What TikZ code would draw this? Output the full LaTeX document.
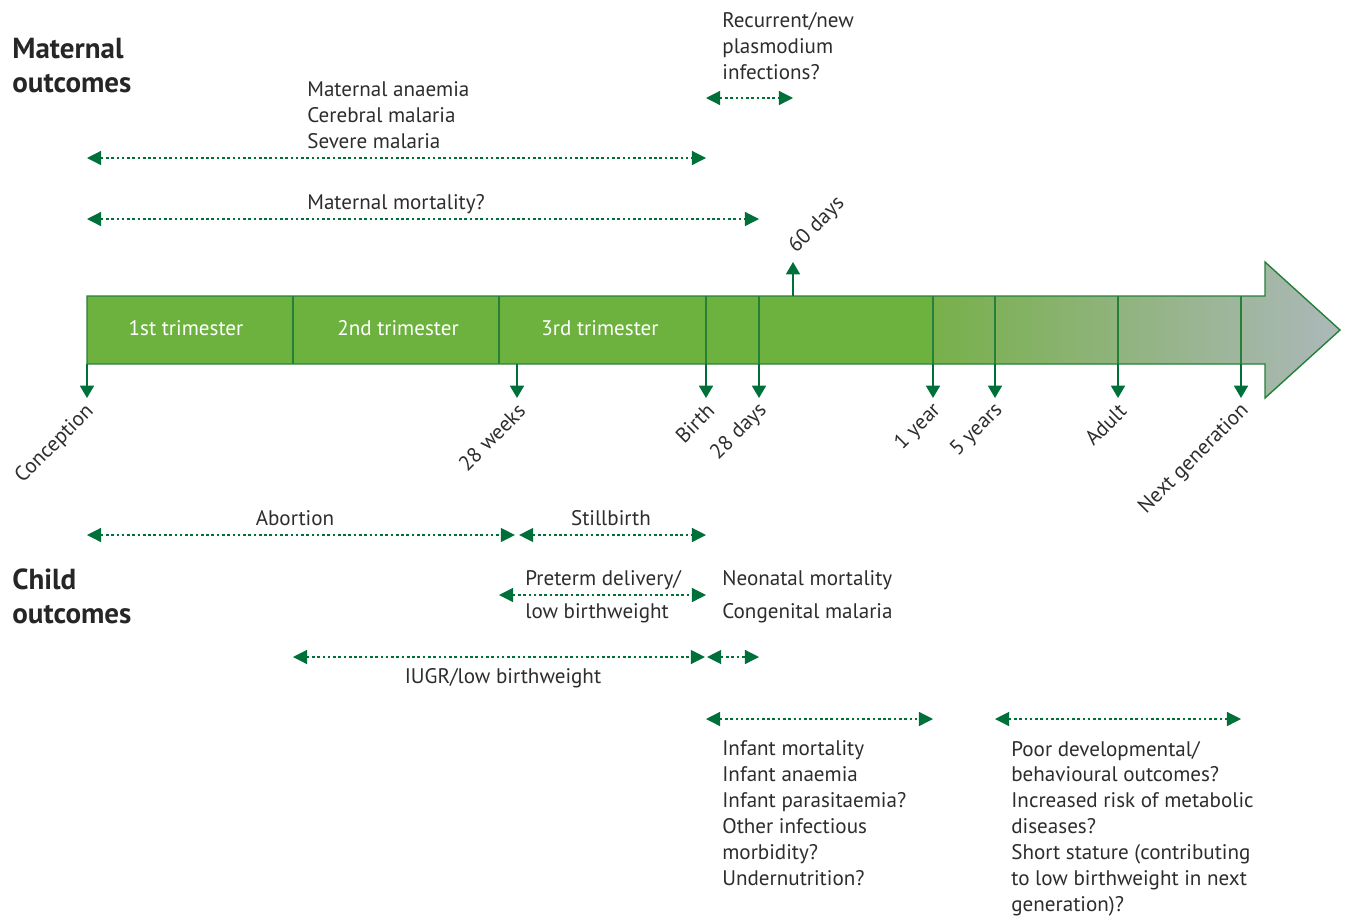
\documentclass[tikz,border=0pt]{standalone}
\usepackage{fontspec}
\setmainfont{PT Sans}
\usetikzlibrary{arrows.meta, calc}
\definecolor{bargreen}{RGB}{109, 178, 62}
\definecolor{fadegreen}{RGB}{120, 176, 74}
\definecolor{fadegrey}{RGB}{172, 184, 186}
\definecolor{barline}{RGB}{38, 128, 58}
\definecolor{tickgreen}{RGB}{0, 112, 58}
\definecolor{textgrey}{RGB}{45, 45, 45}

\begin{document}
\begin{tikzpicture}[
	x=0.02cm, y=-0.02cm,
	font=\fontsize{12}{14.7}\selectfont,
	% Styles for the connectors
	span/.style={{Triangle[length=8pt, width=8pt]}-{Triangle[length=8pt, width=8pt]}, draw=tickgreen, line width=0.7pt, dash pattern=on 1.5pt off 1.5pt},
	tick/.style={-{Triangle[length=7pt, width=8pt]}, draw=tickgreen, line width=0.8pt},
	divider/.style={draw=barline, line width=0.8pt},
	% Styles for text (base = baseline of the LAST line)
	txt/.style={text=textgrey, align=left, inner sep=0pt, anchor=base west},
	header/.style={txt, font=\fontsize{16.5}{19}\selectfont\bfseries, text=black!85},
	trimtext/.style={text=white, inner sep=0pt, anchor=base},
	ticklabel/.style={text=textgrey, rotate=45, anchor=east, inner sep=1pt}
	]
	\useasboundingbox (0, 0) rectangle (1349, 917);
	
	% ==========================================
	% TIMELINE POINTS AND ROWS
	% ==========================================
	\coordinate (conc) at (87, 364);
	\coordinate (tri12) at (293, 364);
	\coordinate (tri23) at (499, 364);
	\coordinate (wk28) at (517, 364);
	\coordinate (birth) at (706, 364);
	\coordinate (d28) at (759, 364);
	\coordinate (d60) at (793, 296);
	\coordinate (yr1) at (933, 364);
	\coordinate (yr5) at (995, 364);
	\coordinate (adult) at (1118, 364);
	\coordinate (nextgen) at (1241, 364);
	
	\coordinate (bartop) at (0, 296);
	\coordinate (tickrow) at (0, 398);
	\coordinate (uprow) at (0, 262);
	
	\coordinate (rowRecur) at (0, 98);
	\coordinate (rowAnaemia) at (0, 158);
	\coordinate (rowMort) at (0, 219);
	\coordinate (rowAbort) at (0, 535);
	\coordinate (rowPreterm) at (0, 595);
	\coordinate (rowIugr) at (0, 657);
	\coordinate (rowInfant) at (0, 719);
	
	% ==========================================
	% TIMELINE ARROW
	% ==========================================
	\fill[bargreen] (87, 296) rectangle (933, 364);
	\shade[left color=fadegreen, right color=fadegrey] (933, 296) -- (1265, 296) -- (1265, 262) -- (1340, 330) -- (1265, 398) -- (1265, 364) -- (933, 364) -- cycle;
	\draw[divider] (87, 296) -- (1265, 296) -- (1265, 262) -- (1340, 330) -- (1265, 398) -- (1265, 364) -- (87, 364) -- cycle;
	
	% Dividers
	\draw[divider] (tri12 |- bartop) -- (tri12);
	\draw[divider] (tri23 |- bartop) -- (tri23);
	\draw[divider] (birth |- bartop) -- (birth);
	\draw[divider] (d28 |- bartop) -- (d28);
	\draw[divider] (yr1 |- bartop) -- (yr1);
	\draw[divider] (yr5 |- bartop) -- (yr5);
	\draw[divider] (adult |- bartop) -- (adult);
	\draw[divider] (nextgen |- bartop) -- (nextgen);
	
	\node[trimtext] (tri1) at (186, 335) {1st trimester};
	\node[trimtext] (tri2) at (398, 335) {2nd trimester};
	\node[trimtext] (tri3) at (600, 335) {3rd trimester};
	
	% Ticks
	\draw[tick] (conc) -- (conc |- tickrow);
	\draw[tick] (wk28) -- (wk28 |- tickrow);
	\draw[tick] (birth) -- (birth |- tickrow);
	\draw[tick] (d28) -- (d28 |- tickrow);
	\draw[tick] (yr1) -- (yr1 |- tickrow);
	\draw[tick] (yr5) -- (yr5 |- tickrow);
	\draw[tick] (adult) -- (adult |- tickrow);
	\draw[tick] (nextgen) -- (nextgen |- tickrow);
	\draw[tick] (d60) -- (d60 |- uprow);
	
	\node[ticklabel] (labConc) at ($(conc |- tickrow) + (5, 9)$) {Conception};
	\node[ticklabel] (labWk28) at ($(wk28 |- tickrow) + (6, 8)$) {28 weeks};
	\node[ticklabel] (labBirth) at ($(birth |- tickrow) + (6, 8)$) {Birth};
	\node[ticklabel] (labD28) at ($(d28 |- tickrow) + (6, 8)$) {28 days};
	\node[ticklabel] (labYr1) at ($(yr1 |- tickrow) + (6, 8)$) {1 year};
	\node[ticklabel] (labYr5) at ($(yr5 |- tickrow) + (6, 8)$) {5 years};
	\node[ticklabel] (labAdult) at ($(adult |- tickrow) + (6, 8)$) {Adult};
	\node[ticklabel] (labNext) at ($(nextgen |- tickrow) + (6, 8)$) {Next generation};
	\node[ticklabel, anchor=west] (labD60) at ($(d60 |- uprow) + (-2, -11)$) {60 days};
	
	% ==========================================
	% MATERNAL OUTCOMES
	% ==========================================
	\node[header] (matHead) at (12, 92) {Maternal\\outcomes};
	
	\node[txt] (recur) at (722, 79) {Recurrent/new\\plasmodium\\infections?};
	\draw[span] (birth |- rowRecur) -- (d60 |- rowRecur);
	
	\node[txt] (anaemia) at (307, 148) {Maternal anaemia\\Cerebral malaria\\Severe malaria};
	\draw[span] (conc |- rowAnaemia) -- (birth |- rowAnaemia);
	
	\node[txt] (matMort) at (307, 209) {Maternal mortality?};
	\draw[span] (conc |- rowMort) -- (d28 |- rowMort);
	
	% ==========================================
	% CHILD OUTCOMES
	% ==========================================
	\node[header] (childHead) at (12, 623) {Child\\outcomes};
	
	\node[txt, anchor=base] (abort) at (295, 525) {Abortion};
	\draw[span, shorten >=1.2pt] (conc |- rowAbort) -- (wk28 |- rowAbort);
	\node[txt, anchor=base] (still) at (611, 525) {Stillbirth};
	\draw[span, shorten <=1.2pt] (wk28 |- rowAbort) -- (birth |- rowAbort);
	
	\node[txt, font=\fontsize{12}{18.7}\selectfont] (preterm) at (525, 618) {Preterm delivery/\\low birthweight};
	\draw[span] (tri23 |- rowPreterm) -- (birth |- rowPreterm);
	\node[txt, font=\fontsize{12}{18.7}\selectfont] (neonatal) at (722, 618) {Neonatal mortality\\Congenital malaria};
	
	\node[txt, anchor=base] (iugr) at (503, 683) {IUGR/low birthweight};
	\draw[span, shorten >=0.6pt] (tri12 |- rowIugr) -- (birth |- rowIugr);
	\draw[span, shorten <=0.6pt] (birth |- rowIugr) -- (d28 |- rowIugr);
	
	\draw[span] (birth |- rowInfant) -- (yr1 |- rowInfant);
	\node[txt] (infant) at (722, 885) {Infant mortality\\Infant anaemia\\Infant parasitaemia?\\Other infectious\\morbidity?\\Undernutrition?};
	
	\draw[span] (yr5 |- rowInfant) -- (nextgen |- rowInfant);
	\node[txt] (later) at (1011, 911) {Poor developmental/\\behavioural outcomes?\\Increased risk of metabolic\\diseases?\\Short stature (contributing\\to low birthweight in next\\generation)?};
	
\end{tikzpicture}
\end{document}
